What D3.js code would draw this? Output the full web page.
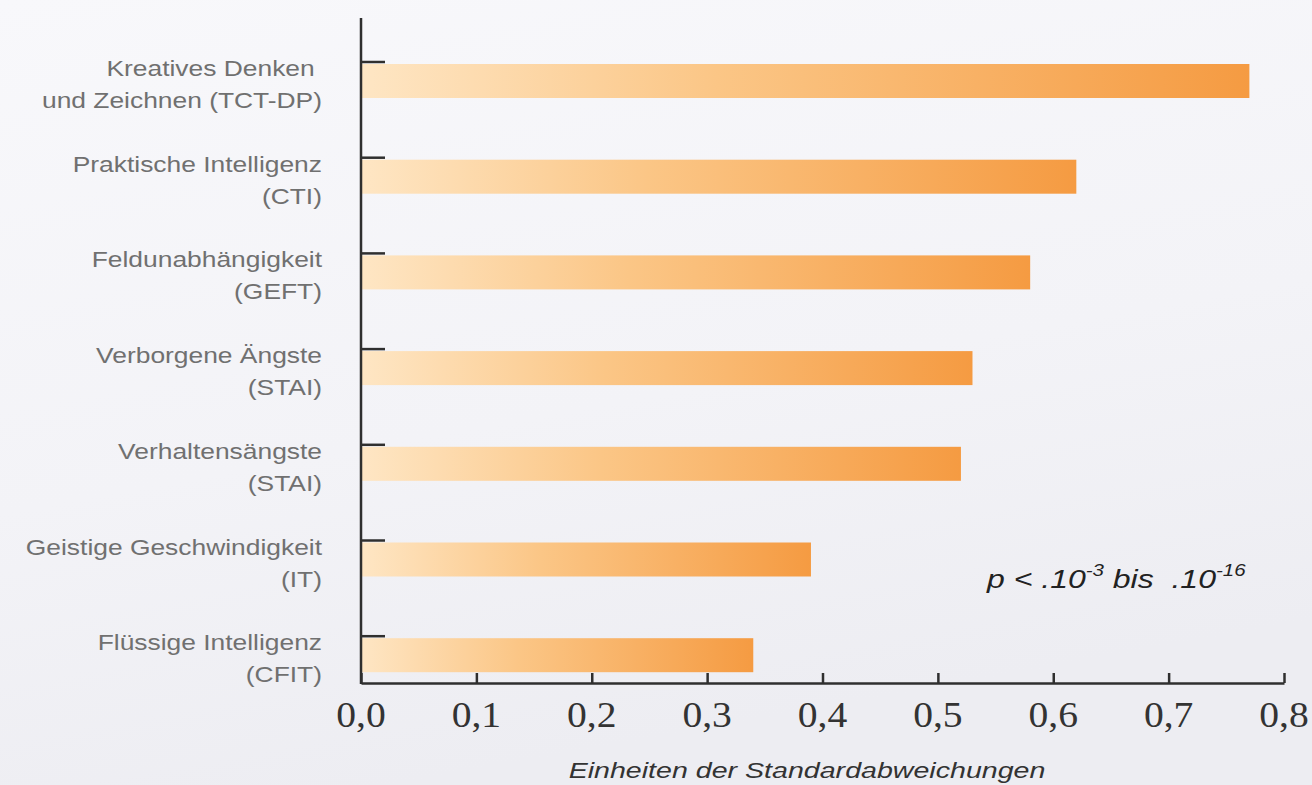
<!DOCTYPE html>
<html>
<head>
<meta charset="utf-8">
<script src="https://cdn.jsdelivr.net/npm/d3@7"></script>
<style>
  html, body { margin: 0; padding: 0; background: #f3f3f7; }
  svg { display: block; }
</style>
</head>
<body>
<svg id="chart" width="1312" height="785"></svg>
<script>
// Effect sizes (standard deviation units), top to bottom
const labelLine1 = [
  "Kreatives Denken\u00a0",
  "Praktische Intelligenz",
  "Feldunabhängigkeit",
  "Verborgene Ängste",
  "Verhaltensängste",
  "Geistige Geschwindigkeit",
  "Flüssige Intelligenz"
];
const labelLine2 = [
  "und Zeichnen (TCT-DP)",
  "(CTI)",
  "(GEFT)",
  "(STAI)",
  "(STAI)",
  "(IT)",
  "(CFIT)"
];
const values = [0.77, 0.62, 0.58, 0.53, 0.52, 0.39, 0.34];
const xTicks = [0, 0.1, 0.2, 0.3, 0.4, 0.5, 0.6, 0.7, 0.8];
const xTitle = "Einheiten der Standardabweichungen";

const svg = d3.select("#chart");
const W = 1312, H = 785;

// background
const defs = svg.append("defs");
const bg = defs.append("linearGradient").attr("id", "bg")
  .attr("x1", 0).attr("y1", 0).attr("x2", 0.3).attr("y2", 1);
bg.append("stop").attr("offset", 0).attr("stop-color", "#f8f8fb");
bg.append("stop").attr("offset", 0.6).attr("stop-color", "#f3f3f7");
bg.append("stop").attr("offset", 1).attr("stop-color", "#ededf2");
svg.append("rect").attr("width", W).attr("height", H).attr("fill", "url(#bg)");

const barGrad = defs.append("linearGradient").attr("id", "barGrad")
  .attr("x1", 0).attr("y1", 0).attr("x2", 1).attr("y2", 0);
barGrad.append("stop").attr("offset", 0).attr("stop-color", "#fee6c4");
barGrad.append("stop").attr("offset", 0.4).attr("stop-color", "#fbc686");
barGrad.append("stop").attr("offset", 1).attr("stop-color", "#f59b42");

const x0 = 361, x1 = 1284, axisY = 683, axisTop = 18;
const x = d3.scaleLinear().domain([0, 0.8]).range([x0, x1]);
const cats = labelLine1.map((d, i) => i);
const y = d3.scaleBand().domain(cats).range([62, 62 + 7 * 95.7]).paddingInner(0);
const barH = 34;

// bars
svg.append("g").selectAll("rect").data(values).join("rect")
  .attr("x", x(0))
  .attr("y", (d, i) => y(i) + 2)
  .attr("width", d => x(d) - x(0))
  .attr("height", barH)
  .attr("fill", "url(#barGrad)");

const axisColor = "#2f2f2f";

// y axis line and category ticks
svg.append("line")
  .attr("x1", x0).attr("x2", x0).attr("y1", axisTop).attr("y2", axisY + 1)
  .attr("stroke", axisColor).attr("stroke-width", 2.5);
svg.append("g").selectAll("line").data(cats).join("line")
  .attr("x1", x0).attr("x2", x0 + 24)
  .attr("y1", d => y(d)).attr("y2", d => y(d))
  .attr("stroke", axisColor).attr("stroke-width", 2.5);

// x axis with inward ticks
const xAxis = d3.axisBottom(x).tickValues(xTicks).tickSize(-10).tickSizeOuter(0).tickFormat("");
const gx = svg.append("g").attr("transform", `translate(0,${axisY})`).call(xAxis);
gx.select(".domain").attr("stroke", axisColor).attr("stroke-width", 2.5);
gx.selectAll(".tick line").attr("stroke", axisColor).attr("stroke-width", 2.5);

// x tick labels (decimal comma)
const fmt = d3.formatLocale({decimal: ",", thousands: ".", grouping: [3], currency: ["", "€"]}).format(".1f");
svg.append("g").selectAll("text").data(xTicks).join("text")
  .attr("transform", d => `translate(${x(d)},727) scale(1.1,1)`)
  .attr("text-anchor", "middle")
  .attr("font-family", "'Liberation Serif', 'Times New Roman', serif")
  .attr("font-size", 36)
  .attr("fill", "#333")
  .text(d => fmt(d));

// category labels (two lines, right aligned)
const lab = svg.append("g")
  .attr("font-family", "'Liberation Sans', Arial, sans-serif")
  .attr("font-size", 22)
  .attr("fill", "#707070")
  .attr("text-anchor", "end");
lab.selectAll("text.l1").data(labelLine1).join("text").attr("class", "l1")
  .attr("transform", (d, i) => `translate(322,${y(i) + 14}) scale(1.2,1)`)
  .text(d => d);
lab.selectAll("text.l2").data(labelLine2).join("text").attr("class", "l2")
  .attr("transform", (d, i) => `translate(322,${y(i) + 46}) scale(1.2,1)`)
  .text(d => d);

// axis title
svg.append("text")
  .attr("transform", "translate(807,778) scale(1.3,1)")
  .attr("text-anchor", "middle")
  .attr("font-family", "'Liberation Sans', Arial, sans-serif")
  .attr("font-style", "italic")
  .attr("font-size", 22)
  .attr("fill", "#333")
  .text(xTitle);

// significance note
const note = svg.append("text")
  .attr("transform", "translate(987,588) scale(1.28,1)")
  .attr("font-family", "'Liberation Sans', Arial, sans-serif")
  .attr("font-style", "italic")
  .attr("font-size", 25)
  .attr("fill", "#222");
note.append("tspan").text("p < .10");
note.append("tspan").attr("font-size", 16).attr("dy", -12).text("-3");
note.append("tspan").attr("dy", 12).text(" bis \u00a0.10");
note.append("tspan").attr("font-size", 16).attr("dy", -12).text("-16");
</script>
</body>
</html>
